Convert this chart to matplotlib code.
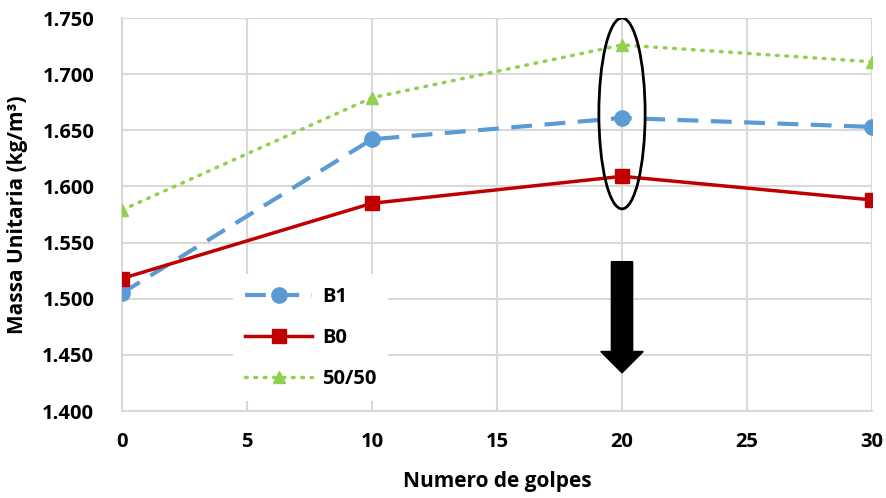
import matplotlib
matplotlib.use('agg')
import matplotlib.pyplot as plt
from matplotlib.patches import Ellipse, FancyArrow

golpes = [0, 10, 20, 30]
b1 = [1.505, 1.642, 1.661, 1.653]
b0 = [1.518, 1.585, 1.609, 1.588]
mix = [1.579, 1.679, 1.726, 1.711]

y_ticks = [1.400, 1.450, 1.500, 1.550, 1.600, 1.650, 1.700, 1.750]
x_ticks = [0, 5, 10, 15, 20, 25, 30]

plt.rcParams['font.family'] = ['Open Sans', 'DejaVu Sans']
plt.rcParams['font.weight'] = 'bold'

fig = plt.figure(figsize=(8.86, 4.98), dpi=100)
ax = fig.add_axes([122 / 886, 1 - 411 / 498, 750 / 886, 393 / 498])

ax.plot(golpes, b1, color='#5B9BD5', lw=3, ls=(0, (5, 3)), marker='o', ms=11,
        label='B1', zorder=3)
ax.plot(golpes, b0, color='#C00000', lw=2.5, ls='-', marker='s', ms=10,
        label='B0', zorder=3)
ax.plot(golpes, mix, color='#92D050', lw=2.5, ls=(0, (0.5, 2.2)), dash_capstyle='round',
        marker='^', ms=9, label='50/50', zorder=3)

# highlight the 20-blow values
ax.add_patch(Ellipse((20, 1.665), 1.85, 0.17, fill=False, ec='black', lw=2, zorder=4))
ax.add_patch(FancyArrow(20, 1.533, 0, -0.099, width=0.85, head_width=1.7,
                        head_length=0.019, length_includes_head=True,
                        color='black', zorder=4))

ax.set_xlim(0, 30)
ax.set_ylim(1.400, 1.750)
ax.set_xticks(x_ticks)
ax.set_yticks(y_ticks)
ax.set_yticklabels([f'{v:.3f}' for v in y_ticks], fontweight='bold')
ax.set_xticklabels([str(v) for v in x_ticks], fontweight='bold')
ax.tick_params(length=0, labelsize=14.5)
ax.tick_params(axis='y', pad=20)
ax.tick_params(axis='x', pad=15)
ax.grid(True, color='#D9D9D9', lw=1.5)
ax.set_axisbelow(True)
for side in ['top', 'right']:
    ax.spines[side].set_visible(False)
for side in ['left', 'bottom']:
    ax.spines[side].set_color('#D9D9D9')
    ax.spines[side].set_linewidth(1.5)

ax.set_xlabel('Numero de golpes', fontsize=15, fontweight='bold', labelpad=14)
ax.set_ylabel('Massa Unitaria (kg/m³)', fontsize=15, fontweight='bold', labelpad=10)

leg = ax.legend(loc='lower left', bbox_to_anchor=(0.135, 0.0), frameon=True,
                fancybox=False, edgecolor='none', framealpha=1, fontsize=14.5,
                handlelength=3.3, handletextpad=0.5, labelspacing=1.05, borderpad=0.6)
for t in leg.get_texts():
    t.set_fontweight('bold')

fig.savefig('out.png', dpi=100)
